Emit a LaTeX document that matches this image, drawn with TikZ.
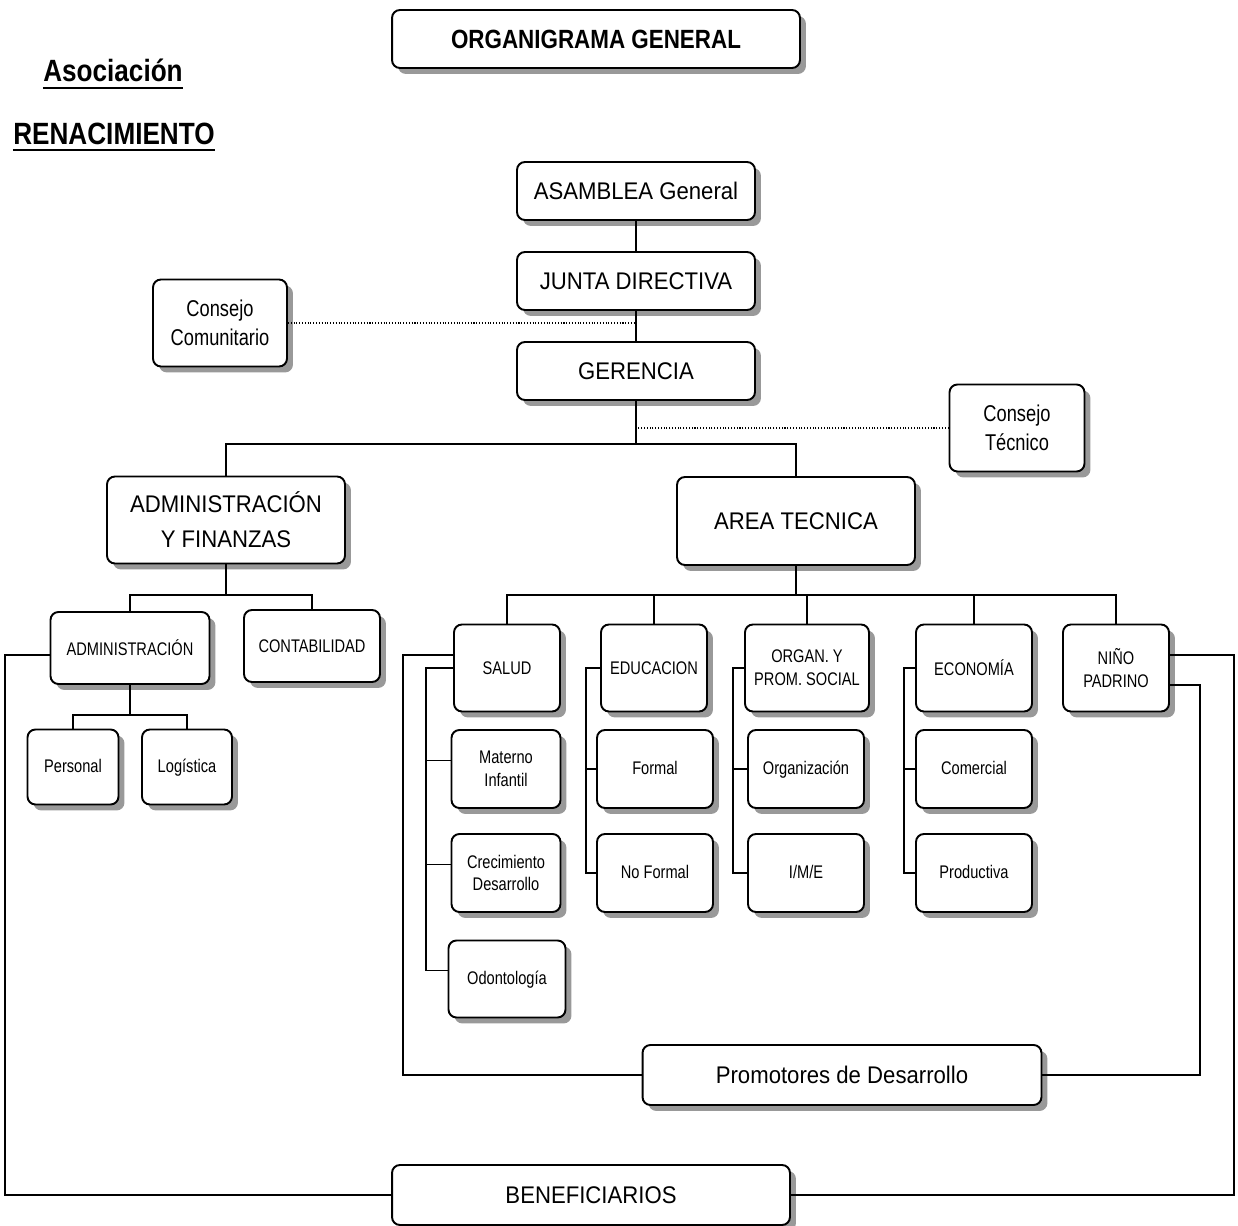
\documentclass[tikz,border=0pt]{standalone}
\usepackage{fontspec}
\setmainfont[FakeStretch=0.92]{Liberation Sans}
\newfontfamily\headfont[FakeStretch=0.85]{Liberation Sans}
\newfontfamily\narrowfont[FakeStretch=0.8]{Liberation Sans}
\usetikzlibrary{shadows,calc}

\tikzset{
  box/.style={draw, line width=1.1pt, rounded corners=4.5pt, fill=white, align=center, inner sep=2pt,
    drop shadow={shadow xshift=3.4pt, shadow yshift=-3.4pt, fill=black!40, opacity=1}},
  bigbox/.style={box, font=\fontsize{13.7}{20}\selectfont},
  midbox/.style={box, font=\fontsize{13}{16.5}\narrowfont},
  smallbox/.style={box, font=\fontsize{10.4}{13}\narrowfont},
  oneline/.style={text height=1.6ex, text depth=0.4ex},
  headtext/.style={inner sep=0pt, anchor=base, font=\fontsize{17.5}{20}\headfont\bfseries},
  linkdots/.style={line width=0.6pt, densely dotted},
}

\begin{document}
\begin{tikzpicture}[x=0.02cm, y=-0.02cm]
              \useasboundingbox (0,0) rectangle (1238,1226);

              \node[box, font=\fontsize{15}{18}\headfont\bfseries, minimum width=8.16cm, minimum height=1.16cm] (titulo) at (596,39) {ORGANIGRAMA GENERAL};
              \node[headtext] (asoc) at (113,82) {Asociación};
              \node[headtext] (renac) at (114,145) {RENACIMIENTO};

              \node[bigbox, minimum width=4.76cm, minimum height=1.16cm] (asamblea) at (636,191) {ASAMBLEA General};
              \node[bigbox, minimum width=4.76cm, minimum height=1.16cm] (junta) at (636,281) {JUNTA DIRECTIVA};
              \node[bigbox, minimum width=4.76cm, minimum height=1.16cm] (gerencia) at (636,371) {GERENCIA};
              \node[midbox, minimum width=2.68cm, minimum height=1.74cm] (ccom) at (220,323) {Consejo\\Comunitario};
              \node[midbox, minimum width=2.70cm, minimum height=1.74cm] (ctec) at (1017,428) {Consejo\\Técnico};

              \node[bigbox, minimum width=4.76cm, minimum height=1.74cm] (adminfin) at (226,520) {ADMINISTRACIÓN\\Y FINANZAS};
              \node[bigbox, minimum width=4.76cm, minimum height=1.76cm] (areatec) at (796,521) {AREA TECNICA};

              \node[smallbox, minimum width=3.18cm, minimum height=1.44cm] (adm) at (130,648) {ADMINISTRACIÓN};
              \node[smallbox, minimum width=2.72cm, minimum height=1.44cm] (conta) at (312,646) {CONTABILIDAD};
              \node[smallbox, oneline, minimum width=1.82cm, minimum height=1.50cm] (personal) at (73,767) {Personal};
              \node[smallbox, oneline, minimum width=1.80cm, minimum height=1.50cm] (logistica) at (187,767) {Logística};

              \node[smallbox, minimum width=2.12cm, minimum height=1.74cm] (salud) at (507,668) {SALUD};
              \node[smallbox, minimum width=2.12cm, minimum height=1.74cm] (educ) at (654,668) {EDUCACION};
              \node[smallbox, minimum width=2.48cm, minimum height=1.74cm] (organ) at (807,668) {ORGAN. Y\\PROM. SOCIAL};
              \node[smallbox, minimum width=2.32cm, minimum height=1.74cm] (econ) at (974,668) {ECONOMÍA};
              \node[smallbox, minimum width=2.12cm, minimum height=1.74cm] (nino) at (1116,668) {NIÑO\\PADRINO};

              \node[smallbox, minimum width=2.18cm, minimum height=1.56cm] (materno) at (506,769) {Materno\\Infantil};
              \node[smallbox, minimum width=2.18cm, minimum height=1.56cm] (crec) at (506,873) {Crecimiento\\Desarrollo};
              \node[smallbox, oneline, minimum width=2.34cm, minimum height=1.54cm] (odont) at (507,979) {Odontología};
              \node[smallbox, oneline, minimum width=2.32cm, minimum height=1.56cm] (formal) at (655,769) {Formal};
              \node[smallbox, oneline, minimum width=2.32cm, minimum height=1.56cm] (noformal) at (655,873) {No Formal};
              \node[smallbox, oneline, minimum width=2.32cm, minimum height=1.56cm] (organiz) at (806,769) {Organización};
              \node[smallbox, oneline, minimum width=2.32cm, minimum height=1.56cm] (ime) at (806,873) {I/M/E};
              \node[smallbox, oneline, minimum width=2.32cm, minimum height=1.56cm] (comercial) at (974,769) {Comercial};
              \node[smallbox, oneline, minimum width=2.32cm, minimum height=1.56cm] (productiva) at (974,873) {Productiva};

              \node[bigbox, minimum width=7.98cm, minimum height=1.20cm] (promotores) at (842,1075) {Promotores de Desarrollo};
              \node[bigbox, minimum width=7.96cm, minimum height=1.20cm] (benef) at (591,1195) {BENEFICIARIOS};

              \coordinate (bus1) at (636,444);
              \coordinate (bus2) at (226,595);
              \coordinate (bus3) at (130,715);
              \coordinate (bus4) at (796,595);
              \coordinate (railA) at (5,0);
              \coordinate (railS) at (403,0);
              \coordinate (railI) at (426,0);
              \coordinate (railE) at (586,0);
              \coordinate (railO) at (733,0);
              \coordinate (railC) at (904,0);
              \coordinate (railN1) at (1234,0);
              \coordinate (railN2) at (1200,0);

              \begin{scope}[line width=1.4pt]
                  \draw ([yshift=-3.4pt]asoc.base west) -- ([yshift=-3.4pt]asoc.base east);
                  \draw ([yshift=-3pt]renac.base west) -- ([yshift=-3pt]renac.base east);
              \end{scope}

              \begin{scope}[line width=0.8pt]
                  \draw (asamblea.south) -- (junta.north);
                  \draw (junta.south) -- (gerencia.north);
                  \draw (gerencia.south) -- (bus1);
                  \draw (adminfin.north) |- (bus1) -| (areatec.north);

                  \draw (adminfin.south) -- (bus2);
                  \draw (adm.north) |- (bus2) -| (conta.north);
                  \draw (adm.south) -- (bus3);
                  \draw (personal.north) |- (bus3) -| (logistica.north);

                  \draw (areatec.south) -- (bus4);
                  \draw (salud.north) |- (bus4) -| (nino.north);
                  \draw (educ.north) -- (educ.north |- bus4);
                  \draw (organ.north) -- (organ.north |- bus4);
                  \draw (econ.north) -- (econ.north |- bus4);

                  \draw ([yshift=-4pt]adm.west) -| (railA |- benef.west) -- (benef.west);
                  \draw ([yshift=7.4pt]salud.west) -| (railS |- promotores.west) -- (promotores.west);
                  \draw (salud.west) -| ([yshift=5pt]railI |- odont.west) -- ([yshift=5pt]odont.west);
                  \draw ([yshift=5pt]materno.west) -- ([yshift=5pt]materno.west -| railI);
                  \draw ([yshift=5pt]crec.west) -- ([yshift=5pt]crec.west -| railI);

                  \draw (educ.west) -| (railE |- noformal.west) -- (noformal.west);
                  \draw (formal.west) -- (formal.west -| railE);
                  \draw (organ.west) -| (railO |- ime.west) -- (ime.west);
                  \draw (organiz.west) -- (organiz.west -| railO);
                  \draw (econ.west) -| (railC |- productiva.west) -- (productiva.west);
                  \draw (comercial.west) -- (comercial.west -| railC);

                  \draw ([yshift=7.4pt]nino.east) -| (railN1 |- benef.east) -- (benef.east);
                  \draw ([yshift=-9.6pt]nino.east) -| (railN2 |- promotores.east) -- (promotores.east);
              \end{scope}

              \draw[linkdots] (ccom.east) -- (ccom.east -| junta.south);
              \draw[linkdots] (ctec.west) -- (ctec.west -| gerencia.south);

          \end{tikzpicture}
\end{document}
